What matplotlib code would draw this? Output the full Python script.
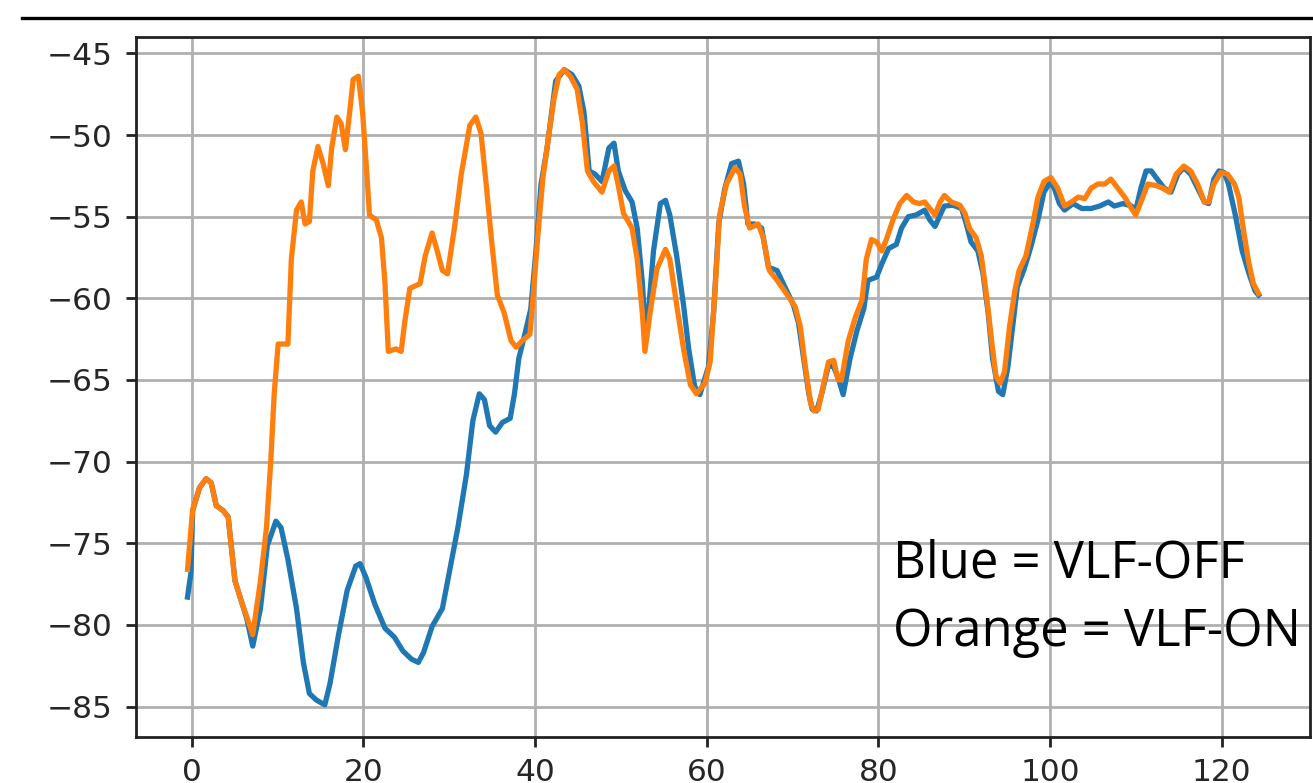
import matplotlib.pyplot as plt
from matplotlib.lines import Line2D

# valores
blue_x = [-0.5, -0.1, 0.1, 0.9, 1.66, 2.26, 2.85, 3.64, 4.24, 5.03, 5.8, 6.4, 7.1, 8.0, 8.8, 9.8,
          10.4, 11.2, 12.2, 13.0, 13.7, 14.5, 15.5, 16.1, 17.1, 18.1, 19.1, 19.6, 20.3, 21.3, 22.5,
          23.6, 24.6, 25.6, 26.4, 27.0, 28.0, 29.2, 30.0, 31.0, 32.0, 32.75, 33.5, 34.1, 34.7, 35.4,
          36.2, 37.1, 37.6, 38.1, 38.9, 39.5, 40.1, 40.7, 41.4, 42.4, 43.4, 44.3, 45.1, 45.7, 46.3,
          47.0, 47.8, 48.6, 49.2, 49.7, 50.5, 51.3, 51.9, 52.5, 52.8, 53.2, 53.8, 54.6, 55.2, 55.7,
          56.5, 57.3, 57.9, 58.6, 59.2, 60.2, 60.8, 61.4, 62.1, 62.9, 63.7, 64.3, 64.8, 65.6, 66.4,
          67.2, 68.2, 69.2, 70.1, 70.7, 71.3, 71.9, 72.3, 72.8, 73.4, 74.2, 74.8, 75.4, 75.9, 76.7,
          77.5, 78.3, 78.8, 79.8, 80.4, 81.2, 82.1, 82.7, 83.5, 84.4, 85.4, 86.0, 86.6, 87.2, 87.7,
          88.7, 89.7, 90.25, 90.8, 91.6, 92.2, 92.8, 93.3, 94.0, 94.5, 95.1, 95.7, 96.2, 97.0, 97.8,
          98.6, 99.3, 100.0, 100.5, 101.1, 101.7, 102.7, 103.7, 104.8, 105.8, 106.8, 107.5, 108.5,
          109.5, 110.0, 110.6, 111.2, 111.8, 112.5, 113.3, 114.1, 114.9, 115.6, 116.4, 117.2, 118.0,
          118.5, 119.1, 119.7, 120.3, 120.8, 121.6, 122.4, 123.2, 123.9, 124.3]
blue_y = [-78.3, -76.8, -73.0, -71.6, -71.05, -71.3, -72.7, -73.0, -73.4, -77.3, -78.6, -79.6, -81.3,
          -79.0, -75.15, -73.65, -74.05, -76.0, -79.0, -82.3, -84.2, -84.6, -84.9, -83.6, -80.6,
          -77.9, -76.4, -76.25, -77.1, -78.7, -80.2, -80.75, -81.6, -82.1, -82.3, -81.7, -80.1,
          -79.0, -76.8, -74.05, -70.8, -67.5, -65.85, -66.2, -67.8, -68.2, -67.6, -67.35, -65.85,
          -63.7, -62.0, -60.65, -57.1, -53.0, -50.8, -46.7, -46.0, -46.3, -47.0, -48.6, -52.2,
          -52.4, -52.85, -50.8, -50.5, -52.2, -53.4, -54.1, -55.7, -59.0, -61.7, -60.9, -57.1,
          -54.2, -54.0, -54.9, -57.4, -60.4, -63.1, -65.4, -65.9, -64.2, -60.9, -55.45, -53.3,
          -51.75, -51.6, -53.0, -55.45, -55.45, -55.7, -58.1, -58.3, -59.4, -60.4, -61.5, -63.7,
          -65.85, -66.8, -66.9, -65.85, -64.1, -64.2, -65.0, -65.9, -63.7, -62.0, -60.65, -58.9,
          -58.7, -57.9, -56.95, -56.7, -55.7, -55.0, -54.9, -54.6, -55.2, -55.6, -54.9, -54.35,
          -54.3, -54.5, -55.45, -56.55, -57.1, -58.5, -60.9, -63.65, -65.7, -65.9, -64.2, -61.5,
          -59.3, -58.2, -56.8, -55.2, -53.5, -52.9, -53.25, -54.2, -54.6, -54.2, -54.5, -54.5,
          -54.35, -54.1, -54.35, -54.2, -54.35, -54.6, -53.25, -52.2, -52.2, -52.7, -53.25, -53.5,
          -52.4, -52.0, -52.4, -53.25, -54.1, -54.2, -52.7, -52.2, -52.3, -53.0, -54.9, -57.1,
          -58.5, -59.55, -59.8]

orange_x = [-0.5, 0.1, 0.9, 1.66, 2.26, 2.85, 3.64, 4.24, 5.03, 5.8, 6.4, 7.1, 8.0, 8.7, 9.2, 9.6,
            10.06, 11.2, 11.6, 12.2, 12.75, 13.2, 13.7, 14.1, 14.7, 15.3, 15.9, 16.3, 16.9, 17.4,
            17.9, 18.5, 18.8, 19.4, 19.9, 20.4, 20.7, 21.5, 22.1, 22.5, 22.9, 23.8, 24.4, 24.8,
            25.4, 26.6, 27.2, 28.0, 28.6, 29.2, 29.8, 30.6, 31.4, 32.4, 33.1, 33.7, 34.3, 34.9,
            35.6, 36.4, 37.2, 37.8, 38.5, 39.4, 39.7, 40.3, 40.9, 41.6, 42.2, 42.8, 43.4, 44.1,
            44.9, 45.5, 46.1, 46.8, 47.8, 48.6, 49.2, 49.7, 50.3, 51.3, 51.9, 52.5, 52.8, 53.4,
            54.2, 55.2, 55.7, 56.5, 57.3, 58.1, 58.8, 59.8, 60.4, 61.0, 61.5, 62.3, 63.3, 63.9,
            64.4, 65.0, 66.0, 66.6, 67.3, 68.2, 69.4, 70.3, 70.9, 71.5, 72.1, 72.5, 73.0, 73.6,
            74.2, 74.8, 75.3, 75.7, 76.5, 77.3, 78.1, 78.6, 79.2, 79.8, 80.4, 81.0, 81.7, 82.5,
            83.3, 84.1, 84.8, 85.4, 86.0, 86.6, 87.2, 87.7, 88.5, 89.5, 90.1, 90.6, 91.4, 92.0,
            92.6, 93.2, 93.7, 94.2, 94.7, 95.3, 95.9, 96.4, 97.2, 98.0, 98.6, 99.3, 100.1, 100.9,
            101.7, 102.5, 103.3, 104.05, 104.8, 105.6, 106.4, 107.1, 107.9, 108.7, 109.5, 110.0,
            110.6, 111.4, 112.4, 113.1, 113.9, 114.7, 115.6, 116.4, 117.2, 118.0, 118.5, 119.1,
            119.9, 120.7, 121.5, 122.0, 122.6, 123.2, 123.7, 124.3]
orange_y = [-76.6, -72.96, -71.6, -71.05, -71.3, -72.7, -73.0, -73.4, -77.3, -78.6, -79.5, -80.6,
            -77.3, -74.05, -70.0, -65.85, -62.8, -62.8, -57.6, -54.6, -54.1, -55.45, -55.3, -52.2,
            -50.7, -51.75, -53.1, -50.8, -48.9, -49.3, -50.9, -48.1, -46.6, -46.4, -48.6, -52.4,
            -54.9, -55.2, -56.3, -59.0, -63.25, -63.1, -63.25, -61.5, -59.4, -59.1, -57.4, -56.0,
            -57.1, -58.3, -58.5, -55.7, -52.4, -49.4, -48.9, -49.9, -53.0, -56.3, -59.8, -60.9,
            -62.6, -63.0, -62.6, -62.2, -60.4, -56.3, -52.7, -50.0, -47.8, -46.3, -46.0, -46.4,
            -47.2, -49.2, -52.2, -52.85, -53.5, -52.2, -51.9, -53.1, -54.8, -55.7, -57.6, -60.9,
            -63.25, -60.9, -58.2, -57.0, -57.6, -60.4, -63.1, -65.3, -65.85, -65.2, -63.9, -59.3,
            -54.9, -53.0, -52.0, -52.4, -54.35, -55.7, -55.45, -56.3, -58.3, -58.9, -59.8, -60.5,
            -61.7, -64.2, -66.4, -66.9, -66.8, -65.3, -63.9, -63.8, -65.0, -65.0, -62.6, -61.2,
            -60.1, -57.6, -56.4, -56.55, -57.1, -56.3, -55.2, -54.2, -53.7, -54.1, -54.2, -54.1,
            -54.5, -54.9, -54.1, -53.7, -54.1, -54.3, -54.8, -55.7, -56.3, -57.4, -59.8, -62.6,
            -64.75, -65.2, -64.5, -61.7, -59.55, -58.3, -57.4, -55.45, -53.8, -52.85, -52.6,
            -53.25, -54.35, -54.1, -53.8, -53.9, -53.25, -53.0, -53.0, -52.7, -53.25, -53.8,
            -54.5, -54.9, -54.1, -53.0, -53.1, -53.25, -53.5, -52.4, -51.9, -52.2, -53.0, -54.1,
            -54.1, -53.0, -52.3, -52.4, -53.0, -53.8, -56.0, -57.9, -59.1, -59.7]

xticks = [0, 20, 40, 60, 80, 100, 120]
yticks = [-85, -80, -75, -70, -65, -60, -55, -50, -45]

fig = plt.figure(figsize=(13.13, 7.83), dpi=100)
ax = fig.add_axes([0.1036, 0.0587, 0.8941, 0.894])

ax.plot(blue_x, blue_y, color="#1f77b4", linewidth=3.8, solid_joinstyle="round")
ax.plot(orange_x, orange_y, color="#ff7f0e", linewidth=3.8, solid_joinstyle="round")

ax.set_xlim(-6.5, 130.3)
ax.set_ylim(-86.87, -44.0)
ax.set_xticks(xticks)
ax.set_yticks(yticks)
ax.grid(True, color="#b0b0b0", linewidth=2.0)
ax.tick_params(labelsize=22.5, length=7, width=2.0, color="#222222", labelcolor="#262626")
ax.tick_params(axis="y", pad=10)
ax.tick_params(axis="x", pad=8)
for s in ax.spines.values():
    s.set_linewidth(2.0)
    s.set_color("#222222")

# linea negra de arriba
fig.add_artist(Line2D([22 / 1313, 1.0], [1 - 18 / 783, 1 - 18 / 783], color="black",
                      linewidth=2.4, transform=fig.transFigure))

fig.text(893 / 1313, 1 - 577 / 783, "Blue = VLF-OFF", fontsize=36.5, family="Open Sans",
         va="baseline", ha="left", color="black")
fig.text(893 / 1313, 1 - 646 / 783, "Orange = VLF-ON", fontsize=36.5, family="Open Sans",
         va="baseline", ha="left", color="black")

fig.savefig("out.png", dpi=100)
